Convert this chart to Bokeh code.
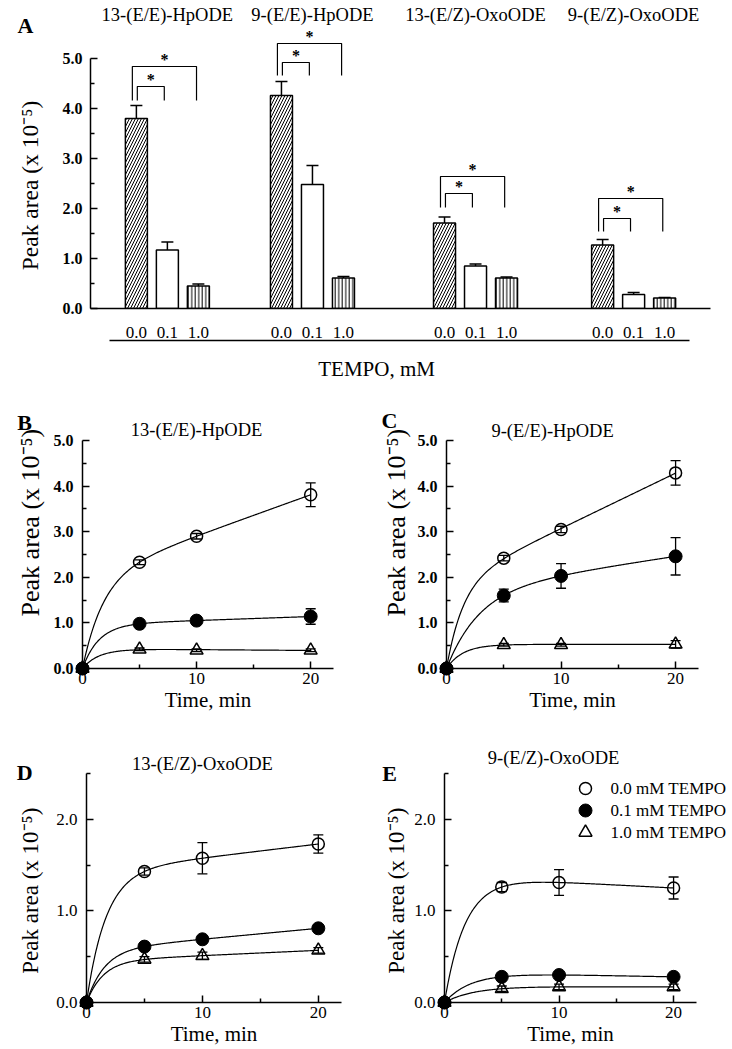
import numpy as np
from bokeh.core.properties import value
from bokeh.embed import file_html
from bokeh.layouts import column, row
from bokeh.models import (ColumnDataSource, FixedTicker, LinearAxis, PrintfTickFormatter,
                          Range1d, TeeHead, Whisker)
from bokeh.plotting import figure
from bokeh.resources import INLINE

FONT = "Liberation Serif"

# ---------------- A: peak areas at the three TEMPO concentrations ----------------
compounds = ["13-(E/E)-HpODE", "9-(E/E)-HpODE", "13-(E/Z)-OxoODE", "9-(E/Z)-OxoODE"]
tempo_mM = ["0.0", "0.1", "1.0"]
area_tempo_00 = [3.80, 4.26, 1.71, 1.27]
sem_tempo_00 = [0.26, 0.28, 0.12, 0.11]
area_tempo_01 = [1.17, 2.48, 0.85, 0.28]
sem_tempo_01 = [0.16, 0.38, 0.04, 0.04]
area_tempo_10 = [0.45, 0.61, 0.61, 0.21]
sem_tempo_10 = [0.04, 0.03, 0.02, 0.01]
# significance brackets (0.0 vs 1.0 mM outer, 0.0 vs 0.1 mM inner)
sig_outer_top = [4.84, 5.30, 2.64, 2.20]
sig_inner_top = [4.44, 4.92, 2.30, 1.80]
sig_leg_end = [4.16, 4.66, 2.02, 1.54]

# ---------------- B-E: time courses ----------------
time_min = [0, 5, 10, 20]
legend_labels = ["0.0 mM TEMPO", "0.1 mM TEMPO", "1.0 mM TEMPO"]

b_tempo_00 = [0, 2.33, 2.90, 3.81]
b_sem_00 = [0, 0.05, 0.06, 0.26]
b_tempo_01 = [0, 0.98, 1.05, 1.14]
b_sem_01 = [0, 0.05, 0.06, 0.17]
b_tempo_10 = [0, 0.42, 0.40, 0.40]
b_sem_10 = [0, 0.03, 0.03, 0.03]

c_tempo_00 = [0, 2.42, 3.05, 4.29]
c_sem_00 = [0, 0.06, 0.07, 0.27]
c_tempo_01 = [0, 1.60, 2.03, 2.46]
c_sem_01 = [0, 0.14, 0.27, 0.41]
c_tempo_10 = [0, 0.52, 0.52, 0.53]
c_sem_10 = [0, 0.03, 0.03, 0.08]

d_tempo_00 = [0, 1.43, 1.575, 1.73]
d_sem_00 = [0, 0.04, 0.17, 0.10]
d_tempo_01 = [0, 0.61, 0.69, 0.81]
d_sem_01 = [0, 0.03, 0.04, 0.04]
d_tempo_10 = [0, 0.47, 0.51, 0.57]
d_sem_10 = [0, 0.03, 0.04, 0.03]

e_tempo_00 = [0, 1.26, 1.31, 1.25]
e_sem_00 = [0, 0.05, 0.14, 0.12]
e_tempo_01 = [0, 0.28, 0.30, 0.28]
e_sem_01 = [0, 0.03, 0.03, 0.03]
e_tempo_10 = [0, 0.15, 0.17, 0.17]
e_sem_10 = [0, 0.03, 0.03, 0.03]

Y_LABEL = "Peak area (x 10\u207b\u2075)"


def style_axis(ax, size="16px", bold=False, standoff=8):
    ax.axis_line_color = "black"
    ax.axis_line_width = 1.5
    ax.major_tick_line_color = "black"
    ax.major_tick_line_width = 1.5
    ax.minor_tick_line_color = "black"
    ax.minor_tick_line_width = 1.5
    ax.major_tick_in = 7
    ax.major_tick_out = 0
    ax.minor_tick_in = 4
    ax.minor_tick_out = 0
    ax.major_label_text_font = FONT
    ax.major_label_text_font_size = size
    ax.major_label_text_font_style = "bold" if bold else "normal"
    ax.major_label_text_color = "black"
    ax.major_label_standoff = standoff
    ax.axis_label_text_font = FONT
    ax.axis_label_text_font_size = "21px"
    ax.axis_label_text_font_style = "normal"
    ax.axis_label_text_color = "black"


def margin_text(p, x, y, text, size, bold=False, angle=0.0, align="center"):
    # overlay level keeps text placed in the plot margins from being cut at the frame
    p.text(x=[x], y=[y], text=[text], angle=angle, text_font=value(FONT),
           text_font_size=value(size), text_font_style="bold" if bold else "normal",
           text_color="black", text_align=align, text_baseline="middle", level="overlay")


# ======================= Panel A =======================
group_x = [2.48, 7.16, 12.42, 17.52]
bar_offsets = [-1.0, 0.0, 1.0]
bar_width = 0.71
bar_x = [[round(g + off, 2) for g in group_x] for off in bar_offsets]

pA = figure(width=732, height=380, x_range=Range1d(0, 20), y_range=Range1d(0, 5.6),
            x_axis_type=None, y_axis_type=None, output_backend="svg", toolbar_location=None,
            min_border_left=90, min_border_right=22, min_border_top=28, min_border_bottom=72)
pA.outline_line_color = None

yA = LinearAxis(ticker=FixedTicker(ticks=[0, 1, 2, 3, 4, 5],
                                   minor_ticks=[0.5, 1.5, 2.5, 3.5, 4.5]),
                formatter=PrintfTickFormatter(format="%.1f"), bounds=(0, 5))
style_axis(yA, "16px", bold=True, standoff=8)
pA.add_layout(yA, "left")

tick_labels = {}
for j, lab in enumerate(tempo_mM):
    for x in bar_x[j]:
        tick_labels[x] = lab
xA = LinearAxis(ticker=FixedTicker(ticks=sorted(tick_labels)), major_label_overrides=tick_labels)
style_axis(xA, "17px", standoff=18)
xA.major_tick_line_color = None
xA.major_tick_in = 0
pA.add_layout(xA, "below")

# rule under the concentration labels
rule = LinearAxis(ticker=FixedTicker(ticks=[]), bounds=(bar_x[0][0] - 0.87, bar_x[2][-1] + 0.8))
style_axis(rule)
rule.major_tick_line_color = None
rule.major_label_text_font_size = "0px"
pA.add_layout(rule, "below")

top_names = {g: name for g, name in zip(group_x, compounds)}
tA = LinearAxis(ticker=FixedTicker(ticks=group_x), major_label_overrides=top_names)
style_axis(tA, "18.5px", standoff=4)
tA.axis_line_color = None
tA.major_tick_line_color = None
tA.major_tick_in = 0
pA.add_layout(tA, "above")

bar_styles = [
    dict(hatch_pattern="/", hatch_scale=6, hatch_weight=1.0),
    dict(),
    dict(hatch_pattern="|", hatch_scale=3.5, hatch_weight=1.0),
]
bar_values = [area_tempo_00, area_tempo_01, area_tempo_10]
bar_sems = [sem_tempo_00, sem_tempo_01, sem_tempo_10]
for j in range(3):
    src = ColumnDataSource(dict(x=bar_x[j], top=bar_values[j],
                                hi=[v + e for v, e in zip(bar_values[j], bar_sems[j])]))
    pA.vbar(x="x", top="top", bottom=0, width=bar_width, source=src, fill_color="white",
            line_color="black", line_width=1.5, hatch_color="black", **bar_styles[j])
    pA.add_layout(Whisker(base="x", lower="top", upper="hi", source=src, dimension="height",
                          line_width=1.5, lower_head=None,
                          upper_head=TeeHead(size=12, line_width=1.5)))

br_xs, br_ys, star_x, star_y = [], [], [], []
for g in range(len(compounds)):
    x0, x1, x2 = bar_x[0][g], bar_x[1][g], bar_x[2][g]
    lo = sig_leg_end[g]
    for (xl, xr, top) in [(x0 - 0.13, x2 - 0.06, sig_outer_top[g]),
                          (x0 + 0.03, x1 - 0.10, sig_inner_top[g])]:
        br_xs.append([xl, xl, xr, xr])
        br_ys.append([lo, top, top, lo])
        star_x.append((xl + xr) / 2)
        star_y.append(top + 0.15)
pA.multi_line(br_xs, br_ys, line_color="black", line_width=1.2)
pA.text(star_x, star_y, text=["*"] * len(star_x), text_font=value(FONT),
        text_font_size=value("16px"), text_font_style="bold", text_align="center",
        text_baseline="middle", text_color="black")

margin_text(pA, -2.1, 5.66, "A", "22px", bold=True)
margin_text(pA, 9.23, -1.2, "TEMPO, mM", "21px")
margin_text(pA, -1.94, 2.46, Y_LABEL, "23.5px", angle=np.pi / 2)


# ======================= Panels B-E =======================
def saturation_fit(t, y):
    """Least-squares fit of y = a(1 - exp(-k t)) + b t."""
    t = np.asarray(t, float)
    y = np.asarray(y, float)
    best = None
    for k in np.linspace(0.05, 0.7, 261):
        A = np.column_stack([1 - np.exp(-k * t), t])
        coef = np.linalg.lstsq(A, y, rcond=None)[0]
        res = float(np.sum((A @ coef - y) ** 2))
        if best is None or res < best[0]:
            best = (res, k, coef)
    _, k, (a, b) = best
    return lambda tt: a * (1 - np.exp(-k * tt)) + b * tt


def time_course(letter, title, series, ymax, y_major, y_minor, bold_y, size, borders,
                letter_xy, title_xy, ylabel_xy, ylabel_size, label_standoff=1, legend_at=None):
    w, h = size
    left, right, top, bottom = borders
    p = figure(width=w, height=h, x_range=Range1d(0, 22), y_range=Range1d(0, ymax),
               x_axis_type=None, y_axis_type=None, output_backend="svg", toolbar_location=None,
               min_border_left=left, min_border_right=right, min_border_top=top,
               min_border_bottom=bottom)
    p.outline_line_color = None

    xax = LinearAxis(ticker=FixedTicker(ticks=[0, 10, 20], minor_ticks=[5, 15]),
                     axis_label="Time, min")
    style_axis(xax, "17px", standoff=4)
    xax.axis_label_standoff = label_standoff
    p.add_layout(xax, "below")
    yax = LinearAxis(ticker=FixedTicker(ticks=y_major, minor_ticks=y_minor),
                     formatter=PrintfTickFormatter(format="%.1f"))
    style_axis(yax, "16px" if bold_y else "17px", bold=bold_y, standoff=9)
    p.add_layout(yax, "left")

    t_fit = np.linspace(0, 20, 241)
    for vals, _ in series:
        curve = saturation_fit(time_min, vals)
        p.line(t_fit, curve(t_fit), line_color="black", line_width=1.2)

    for vals, sems in series:
        keep = [i for i, s in enumerate(sems) if s > 0]
        src = ColumnDataSource(dict(t=[time_min[i] for i in keep],
                                    lo=[vals[i] - sems[i] for i in keep],
                                    hi=[vals[i] + sems[i] for i in keep]))
        p.add_layout(Whisker(base="t", lower="lo", upper="hi", source=src, dimension="height",
                             line_width=1.3, upper_head=TeeHead(size=10, line_width=1.3),
                             lower_head=TeeHead(size=10, line_width=1.3)))

    open_style = dict(marker="circle", size=12, fill_color=None, line_color="black",
                      line_width=1.5, level="overlay")
    tri_style = dict(marker="triangle", size=13, fill_color=None, line_color="black",
                     line_width=1.5, level="overlay")
    fill_style = dict(marker="circle", size=13, fill_color="black", line_color="black",
                      line_width=1.0, level="overlay")
    (v00, _), (v01, _), (v10, _) = series
    p.scatter(time_min, v00, **open_style)
    p.scatter(time_min, v10, **tri_style)
    p.scatter(time_min, v01, **fill_style)

    margin_text(p, *letter_xy, letter, "22px", bold=True)
    margin_text(p, *title_xy, title, "18.5px")
    margin_text(p, *ylabel_xy, Y_LABEL, ylabel_size, angle=np.pi / 2)

    if legend_at is not None:
        # key: marker column and label column, one row per TEMPO concentration
        mx, tx, ys = legend_at
        for style, lab, yy in zip([open_style, fill_style, tri_style], legend_labels, ys):
            p.scatter([mx], [yy], **style)
            margin_text(p, tx, yy, lab, "17px", align="left")
    return p


ticks5 = [0, 1, 2, 3, 4, 5]
minor5 = [0.5, 1.5, 2.5, 3.5, 4.5]
pB = time_course("B", compounds[0],
                 [(b_tempo_00, b_sem_00), (b_tempo_01, b_sem_01), (b_tempo_10, b_sem_10)],
                 5.0, ticks5, minor5, True, (366, 335), (82, 33, 60, 47),
                 (-5.08, 5.39), (10.0, 5.22), (-4.56, 3.2), "26px")
pC = time_course("C", compounds[1],
                 [(c_tempo_00, c_sem_00), (c_tempo_01, c_sem_01), (c_tempo_10, c_sem_10)],
                 5.0, ticks5, minor5, True, (366, 335), (80, 34, 60, 47),
                 (-4.98, 5.44), (9.26, 5.2), (-4.37, 3.2), "26px")
pD = time_course("D", compounds[2],
                 [(d_tempo_00, d_sem_00), (d_tempo_01, d_sem_01), (d_tempo_10, d_sem_10)],
                 2.5, [0, 1, 2], [0.5, 1.5, 2.5], False, (366, 334), (86, 25, 58, 47),
                 (-5.34, 2.51), (10.0, 2.6), (-4.83, 1.22), "23px")
pE = time_course("E", compounds[3],
                 [(e_tempo_00, e_sem_00), (e_tempo_01, e_sem_01), (e_tempo_10, e_sem_10)],
                 2.5, [0, 1, 2], [0.5, 1.5, 2.5], False, (366, 334), (78, 36, 58, 47),
                 (-4.8, 2.5), (9.52, 2.67), (-4.19, 1.22), "23px",
                 legend_at=(12.31, 14.5, [2.336, 2.096, 1.856]))

layout = column(pA, row(pB, pC, spacing=0), row(pD, pE, spacing=0), spacing=0)
open("out.html", "w").write(file_html(layout, INLINE))
